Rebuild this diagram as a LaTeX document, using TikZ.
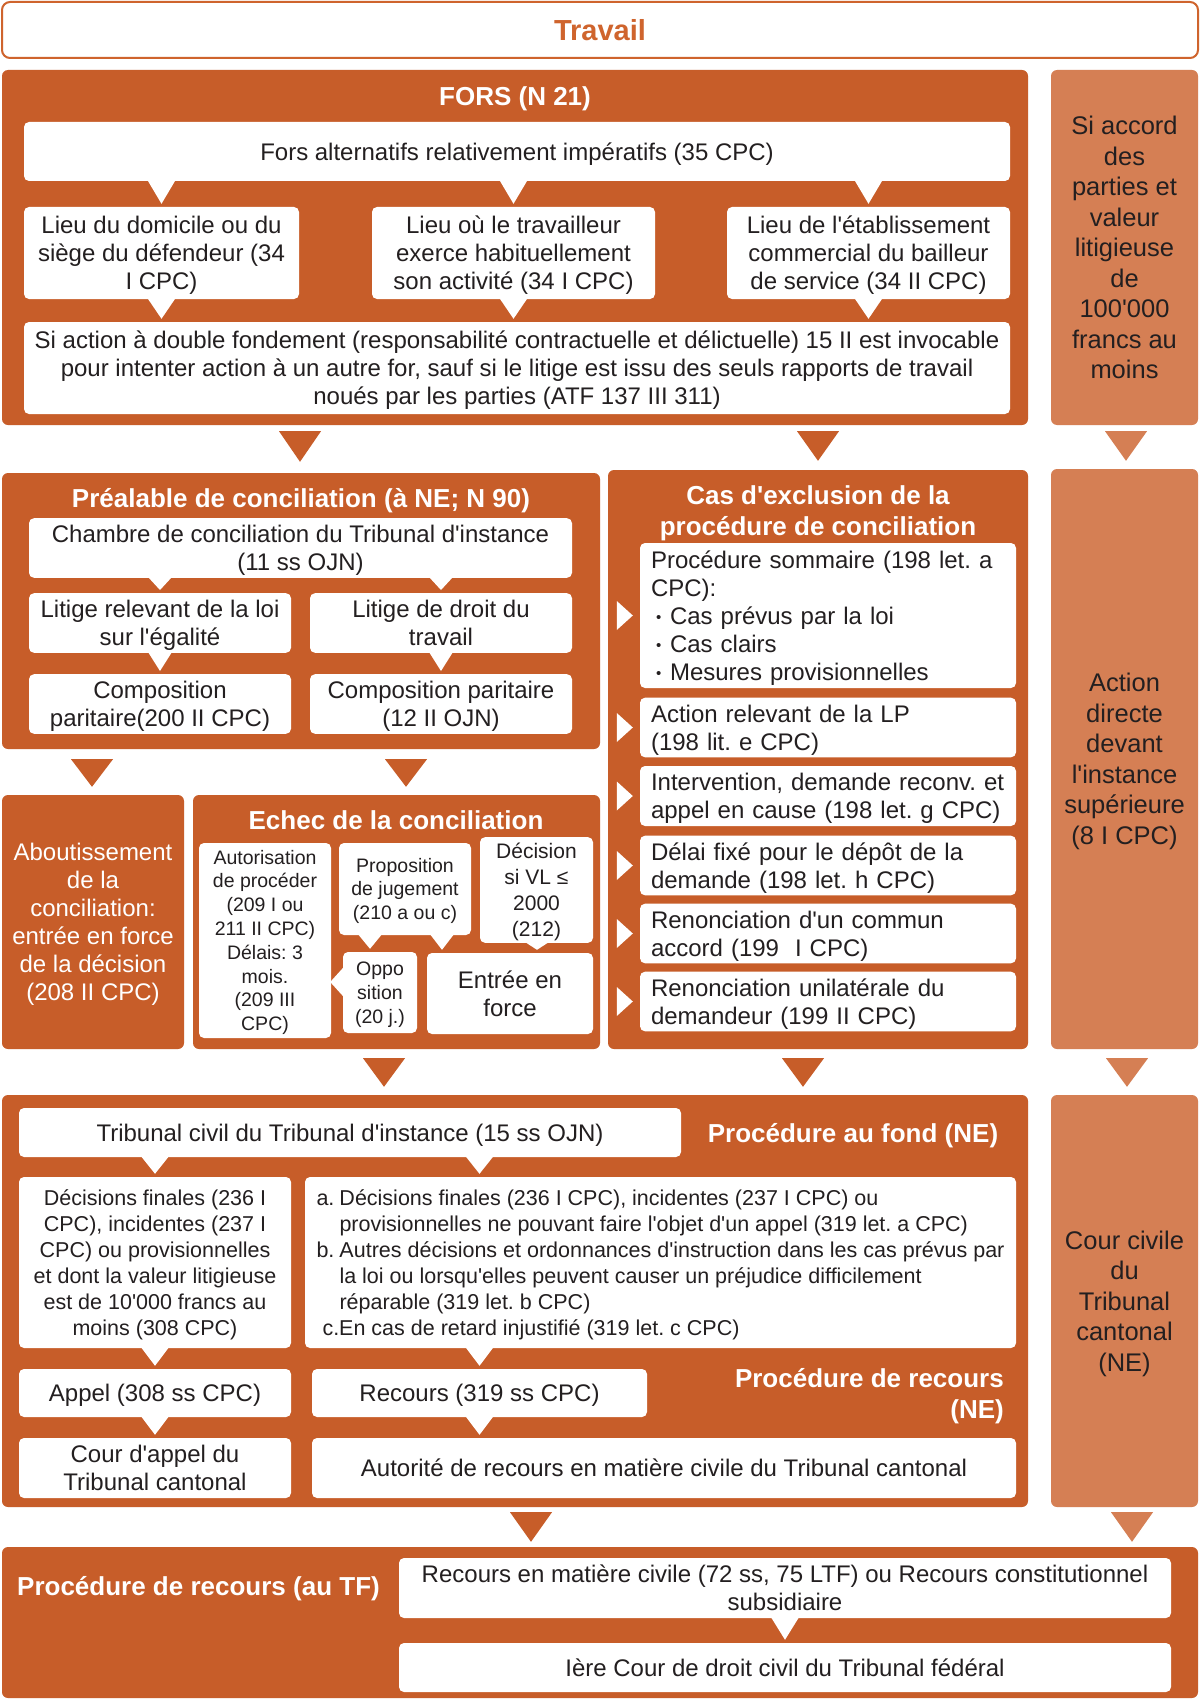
\documentclass[tikz,border=0pt]{standalone}
\usepackage{fontspec}
\setmainfont{Liberation Sans}
\usetikzlibrary{calc}
\definecolor{dark}{RGB}{199,93,41}
\definecolor{light}{RGB}{213,127,84}
\definecolor{txt}{RGB}{35,31,32}
\definecolor{ttlc}{RGB}{207,100,45}
\frenchspacing
\newcommand\fs[2]{\fontsize{#1}{#2}\selectfont}
\newcommand\q{\textquotesingle}
\newcommand\vc[1]{\rule{0pt}{1.016em}#1\rule[-0.3em]{0pt}{0.3em}}
\newcommand\bx[7]{%
  \pgfmathsetmacro\bxw{#5-#3}\pgfmathsetmacro\bxh{#6-#4}%
  \pgfmathsetmacro\bxcx{(#3+#5)/2}\pgfmathsetmacro\bxcy{-(#4+#6)/2}%
  \node[#1,minimum width=\bxw pt,minimum height=\bxh pt] (#2) at (\bxcx,\bxcy) {\vc{#7}};}
% small white callout pointer: [halfwidth]{parent}{child}{x reference}
\newcommand\ptr[4][14]{%
  \coordinate (ptrx) at (#4);
  \fill[white] ($(ptrx |- #2.south)+(-#1,1)$) -- ($(ptrx |- #2.south)+(#1,1)$) -- ($(ptrx |- #3.north)+(0,3)$) -- cycle;}
% big arrow between sections: [colour]{src}{dst}{x}{gap}{tipgap}
\newcommand\bigarr[6][dark]{%
  \coordinate (bax) at (#4,0);
  \fill[#1] ($(bax |- #2.south)+(-21,-#5)$) -- ($(bax |- #2.south)+(21,-#5)$) -- ($(bax |- #3.north)+(0,#6)$) -- cycle;}
\newcommand\bul{\hspace*{5pt}\makebox[14pt][l]{\fs{15}{15}\raisebox{1.5pt}{•}}}
\pgfdeclarelayer{back}
\pgfdeclarelayer{mid}
\pgfsetlayers{back,mid,main}
\tikzset{
 sec/.style={fill=dark, rounded corners=6pt, inner sep=0pt, text=white, align=center, font=\fs{24}{28}},
 lsec/.style={fill=light, rounded corners=6pt, inner sep=0pt, text=txt, align=center, font=\fs{25.5}{30.5}},
 wb/.style={fill=white, rounded corners=5pt, inner sep=0pt, text=txt, align=center, font=\fs{24}{28}},
 sm/.style={wb, font=\fs{19.5}{23.8}},
 md/.style={wb, font=\fs{21.5}{26}},
 lft/.style={wb, align=left, text width=#1},
 ttl/.style={text=white, font=\bfseries\fs{26}{31}, align=center, inner sep=0pt},
 tbox/.style={draw=ttlc, line width=2pt, rounded corners=8pt, fill=white, inner sep=0pt, text=ttlc, font=\bfseries\fs{29}{34}},
}
\begin{document}
\begin{tikzpicture}[x=1pt,y=1pt]
\useasboundingbox (0,0) rectangle (1200,-1699);
\begin{pgfonlayer}{back}
\fill[white] (0,0) rectangle (1200,-1699);
\bx{tbox}{trav}{2}{2}{1198}{58}{Travail}
\bx{sec}{fors}{2}{70}{1028}{425}{}
\bx{lsec}{r1}{1051}{70}{1198}{425}{Si accord\\des\\parties et\\valeur\\litigieuse\\de\\100\q000\\francs au\\moins}
\bx{sec}{pre}{2}{473}{600}{749}{}
\bx{sec}{cas}{608}{470}{1028}{1049}{}
\bx{lsec}{r2}{1051}{469}{1198}{1049}{Action\\directe\\devant\\l\q instance\\supérieure\\(8 I CPC)}
\bx{sec}{abo}{2}{795}{184}{1049}{Aboutissement\\de la\\conciliation:\\entrée en force\\de la décision\\(208 II CPC)}
\bx{sec}{ech}{193}{795}{600}{1049}{}
\bx{sec}{fond}{2}{1095}{1028}{1507}{}
\bx{lsec}{r3}{1051}{1095}{1198}{1507}{Cour civile\\du\\Tribunal\\cantonal\\(NE)}
\bx{sec}{tf}{2}{1547}{1198}{1698}{}
\end{pgfonlayer}
% titles
\node[ttl] (tfors) at (515,-96.5) {\vc{FORS (N 21)}};
\node[ttl] (tpre) at (301,-498.5) {\vc{Préalable de conciliation (à NE; N 90)}};
\node[ttl] (tcas) at (818,-511) {\vc{Cas d\q exclusion de la\\procédure de conciliation}};
\node[ttl] (tech) at (396,-820.5) {\vc{Echec de la conciliation}};
\node[ttl] (tfond) at (853,-1133) {\vc{Procédure au fond (NE)}};
\node[ttl, align=right, anchor=east] (trec) at (1004,-1394) {\vc{Procédure de recours\\(NE)}};
\node[ttl, anchor=west] (ttf) at (17,-1586) {\vc{Procédure de recours (au TF)}};
% FORS
\bx{wb}{fa}{24}{122}{1010}{181}{Fors alternatifs relativement impératifs (35 CPC)}
\bx{wb}{l1}{24}{207}{299}{299}{Lieu du domicile ou du\\siège du défendeur (34\\I CPC)}
\bx{wb}{l2}{372}{207}{655}{299}{Lieu où le travailleur\\exerce habituellement\\son activité (34 I CPC)}
\bx{wb}{l3}{727}{207}{1010}{299}{Lieu de l\q établissement\\commercial du bailleur\\de service (34 II CPC)}
\bx{wb}{sa}{24}{322}{1010}{414}{Si action à double fondement (responsabilité contractuelle et délictuelle) 15 II est invocable\\pour intenter action à un autre for, sauf si le litige est issu des seuls rapports de travail\\noués par les parties (ATF 137 III 311)}
% Préalable
\bx{wb}{ch}{29}{520}{572}{576}{Chambre de conciliation du Tribunal d\q instance\\(11 ss OJN)}
\bx{wb}{li1}{29}{594}{291}{652}{Litige relevant de la loi\\sur l\q égalité}
\bx{wb}{li2}{310}{594}{572}{652}{Litige de droit du\\travail}
\bx{wb}{co1}{29}{675}{291}{733}{Composition\\paritaire(200 II CPC)}
\bx{wb}{co2}{310}{675}{572}{733}{Composition paritaire\\(12 II OJN)}
% Cas d'exclusion
\bx{lft=354pt}{e1}{640}{543}{1016}{688}{\mbox{Procédure sommaire (198 let. a}\\CPC):\\\bul Cas prévus par la loi\\\bul Cas clairs\\\bul Mesures provisionnelles}
\bx{lft=354pt}{e2}{640}{699}{1016}{756}{\mbox{Action relevant de la LP}\\\mbox{(198 lit. e CPC)}}
\bx{lft=354pt}{e3}{640}{766}{1016}{826}{\mbox{Intervention, demande reconv. et}\\\mbox{appel en cause (198 let. g CPC)}}
\bx{lft=354pt}{e4}{640}{836}{1016}{895}{\mbox{Délai fixé pour le dépôt de la}\\\mbox{demande (198 let. h CPC)}}
\bx{lft=354pt}{e5}{640}{904}{1016}{963}{\mbox{Renonciation d\q un commun}\\\mbox{accord (199~~I CPC)}}
\bx{lft=354pt}{e6}{640}{972}{1016}{1031}{\mbox{Renonciation unilatérale du}\\\mbox{demandeur (199 II CPC)}}
% Echec
\bx{sm}{au}{199}{843}{331}{1038}{Autorisation\\de procéder\\(209 I ou\\211 II CPC)\\Délais: 3\\mois.\\(209 III\\CPC)}
\bx{sm}{pr}{339}{843}{471}{935}{Proposition\\de jugement\\(210 a ou c)}
\bx{wb,font=\fs{21}{26}}{de}{480}{845}{593}{935}{Décision\\si VL ≤\\2000\\(212)}
\bx{sm}{op}{343}{952}{417}{1033}{Oppo\\sition\\(20 j.)}
\bx{wb}{en}{427}{953}{593}{1034}{Entrée en\\force}
% Procédure au fond
\bx{wb}{tc}{19}{1108}{681}{1157}{Tribunal civil du Tribunal d\q instance (15 ss OJN)}
\bx{md}{df}{19}{1177}{291}{1348}{Décisions finales (236 I\\CPC), incidentes (237 I\\CPC) ou provisionnelles\\et dont la valeur litigieuse\\est de 10\q000 francs au\\moins (308 CPC)}
\bx{md,align=left}{abc}{305}{1177}{1016}{1348}{\makebox[23pt][l]{a.}Décisions finales (236 I CPC), incidentes (237 I CPC) ou\\\hspace*{23pt}provisionnelles ne pouvant faire l\q objet d\q un appel (319 let. a CPC)\\\makebox[23pt][l]{b.}Autres décisions et ordonnances d\q instruction dans les cas prévus par\\\hspace*{23pt}la loi ou lorsqu\q elles peuvent causer un préjudice difficilement\\\hspace*{23pt}réparable (319 let. b CPC)\\\hspace*{6pt}c.En cas de retard injustifié (319 let. c CPC)}
\bx{wb}{ap}{19}{1369}{291}{1417}{Appel (308 ss CPC)}
\bx{wb}{rc}{312}{1369}{647}{1417}{Recours (319 ss CPC)}
\bx{wb}{ca}{19}{1438}{291}{1498}{Cour d\q appel du\\Tribunal cantonal}
\bx{wb}{aut}{312}{1438}{1016}{1498}{Autorité de recours en matière civile du Tribunal cantonal}
% TF
\bx{wb}{rtf}{399}{1558}{1171}{1618}{Recours en matière civile (72 ss, 75 LTF) ou Recours constitutionnel\\subsidiaire}
\bx{wb}{ie}{399}{1643}{1171}{1692}{Ière Cour de droit civil du Tribunal fédéral}
% pointers
\begin{pgfonlayer}{mid}
\ptr{fa}{l1}{l1.center}\ptr{fa}{l2}{l2.center}\ptr{fa}{l3}{l3.center}
\ptr{l1}{sa}{l1.center}\ptr{l2}{sa}{l2.center}\ptr{l3}{sa}{l3.center}
\ptr[12]{ch}{li1}{li1.center}\ptr[12]{ch}{li2}{li2.center}
\ptr[12]{li1}{co1}{li1.center}\ptr[12]{li2}{co2}{li2.center}
\ptr[12]{pr}{op}{370,0}\ptr[12]{pr}{en}{442,0}\ptr[12]{de}{en}{537,0}
\coordinate (py) at (0,-982);
\fill[white] ($(op.west |- py)+(1,15)$) -- ($(op.west |- py)+(1,-15)$) -- ($(au.east |- py)+(-1,0)$) -- cycle;
\ptr{tc}{df}{df.center}\ptr{tc}{abc}{rc.center}
\ptr{df}{ap}{df.center}\ptr{abc}{rc}{rc.center}
\ptr{ap}{ca}{df.center}\ptr{rc}{aut}{rc.center}
\ptr{rtf}{ie}{ie.center}
\foreach \n in {e1,e2,e3,e4,e5,e6}{\fill[white] ($(\n.west)+(-7,0)$) -- ($(\n.west)+(-23,14.5)$) -- ($(\n.west)+(-23,-14.5)$) -- cycle;}
\end{pgfonlayer}
% big arrows
\bigarr{fors}{pre}{300}{6}{11}
\bigarr{fors}{cas}{818}{6}{9}
\bigarr[light]{r1}{r2}{1126}{6}{8}
\bigarr{pre}{abo}{92}{10}{8}
\bigarr{pre}{ech}{406}{10}{8}
\bigarr{ech}{fond}{384}{9}{8}
\bigarr{cas}{fond}{803}{9}{8}
\bigarr[light]{r2}{r3}{1127}{9}{8}
\bigarr{fond}{tf}{531}{5}{5}
\bigarr[light]{r3}{tf}{1132}{5}{5}
\end{tikzpicture}
\end{document}
